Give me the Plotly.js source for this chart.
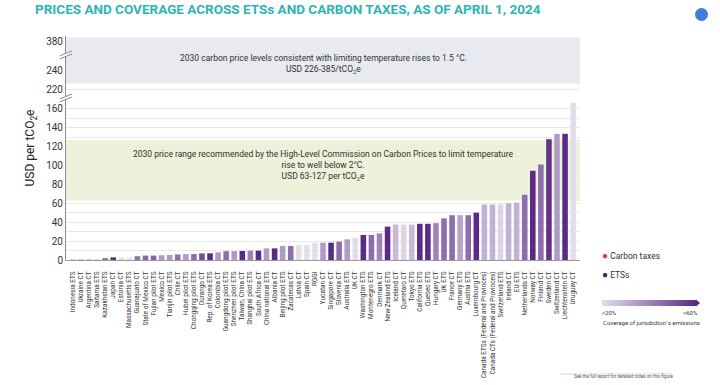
<!DOCTYPE html>
<html>
<head>
<meta charset="utf-8">
<script src="https://cdn.plot.ly/plotly-3.0.1.min.js"></script>
<style>
  html, body { margin: 0; padding: 0; background: #ffffff; }
  #chart { width: 720px; height: 385px; }
</style>
</head>
<body>
<div id="chart"></div>
<script>
// ---------------- DATA ----------------
const labels = [
  "Indonesia ETS", "Ukraine CT", "Argentina CT", "Saitama ETS", "Kazakhstan ETS",
  "Japan CT", "Estonia CT", "Massachusetts ETS", "Guanajuato CT", "State of Mexico CT",
  "Fujian pilot ETS", "Mexico CT", "Tianjin pilot ETS", "Chile CT", "Hubei pilot ETS",
  "Chongqing pilot ETS", "Durango CT", "Rep. of Korea ETS", "Colombia CT", "Guangdong pilot ETS",
  "Shenzhen pilot ETS", "Taiwan, China CT", "Shanghai pilot ETS", "South Africa CT", "China national ETS",
  "Albania CT", "Beijing pilot ETS", "Zacatecas CT", "Latvia CT", "Spain CT",
  "RGGI", "Yucatan CT", "Singapore CT", "Slovenia CT", "Australia ETS",
  "UK CT", "Washington ETS", "Montenegro ETS", "Denmark CT", "New Zealand ETS",
  "Iceland CT", "Queretaro CT", "Tokyo ETS", "California ETS", "Quebec ETS",
  "Hungary CT", "UK ETS", "France CT", "Germany ETS", "Austria ETS",
  "Luxembourg CT", "Canada ETSs (Federal and Provinces)", "Canada CTs (Federal and Provinces)", "Switzerland ETS", "Ireland CT",
  "EU ETS", "Netherlands CT", "Norway CT", "Finland CT", "Sweden CT",
  "Switzerland CT", "Liechtenstein CT", "Uruguay CT"
];
const types = [
  "ETS","CT","CT","ETS","ETS",
  "CT","CT","ETS","CT","CT",
  "ETS","CT","ETS","CT","ETS",
  "ETS","CT","ETS","CT","ETS",
  "ETS","CT","ETS","CT","ETS",
  "CT","ETS","CT","CT","CT",
  "ETS","CT","CT","CT","ETS",
  "CT","ETS","ETS","CT","ETS",
  "CT","CT","ETS","ETS","ETS",
  "CT","ETS","CT","ETS","ETS",
  "CT","ETS","CT","ETS","CT",
  "ETS","CT","CT","CT","CT",
  "CT","CT","CT"
];
// USD per tCO2e
const prices = [
  1.0, 1.2, 1.2, 1.0, 2.0,
  2.8, 2.5, 2.5, 4.0, 4.7,
  4.7, 5.0, 5.4, 5.9, 6.3,
  6.3, 7.0, 7.1, 8.2, 9.3,
  9.4, 9.5, 9.9, 9.9, 12.3,
  12.3, 14.8, 14.8, 15.9, 15.9,
  18.3, 18.3, 18.3, 19.4, 21.9,
  23.6, 26.5, 26.5, 28.2, 35.3,
  37.5, 37.5, 37.5, 38.3, 38.3,
  39.0, 44.0, 47.4, 47.4, 47.4,
  50.0, 58.7, 58.7, 58.7, 60.1,
  60.8, 69.0, 94.4, 101.0, 127.8,
  133.5, 133.5, 166.3
];
// coverage of jurisdiction's emissions (%), estimated from bar shade
const coverage = [
  25, 25, 25, 22, 45,
  60, 20, 20, 45, 47,
  47, 35, 35, 45, 35,
  45, 52, 60, 35, 45,
  35, 60, 40, 60, 35,
  60, 35, 45, 20, 20,
  20, 35, 60, 45, 35,
  20, 60, 45, 40, 60,
  28, 22, 28, 60, 60,
  40, 45, 45, 33, 45,
  60, 30, 30, 22, 30,
  30, 45, 60, 45, 58,
  35, 60, 20
];
const coverageTickText = ["<20%", ">60%"];
// broken y axis: real value -> drawn position
const realBreaks = [0, 172, 220, 240, 380, 390];
const drawBreaks = [0, 172, 180.6, 201, 230.7, 240.9];
const yTickValues = [0, 20, 40, 60, 80, 100, 120, 140, 160, 220, 240, 380];
const yMinorValues = [10, 30, 50, 70, 90, 110, 130, 150];
const band15 = [226, 385];   // 1.5 °C range
const band2 = [63, 127];     // well below 2 °C range

function toDraw(v) {
  for (let i = 0; i < realBreaks.length - 1; i++) {
    if (v <= realBreaks[i + 1]) {
      const t = (v - realBreaks[i]) / (realBreaks[i + 1] - realBreaks[i]);
      return drawBreaks[i] + t * (drawBreaks[i + 1] - drawBreaks[i]);
    }
  }
  return drawBreaks[drawBreaks.length - 1];
}

// pixel helpers for placing side elements (plot area: x 66..580, y 36..260)
const px = x => (x - 66) / 514;
const py = y => (260 - y) / 224;

const CT_COLOR = "#e3334f";
const ETS_COLOR = "#15315e";
const dotY = labels.map(() => -7);

const barTrace = {
  type: "bar",
  x: labels,
  y: prices.map(toDraw),
  marker: {
    color: coverage,
    cmin: 20, cmax: 60,
    colorscale: [[0, "#e3deeb"], [1, "#5a2a86"]],
    line: { width: 0 },
    showscale: true,
    colorbar: {
      orientation: "h",
      xref: "paper", yref: "paper",
      x: px(649), xanchor: "center",
      y: py(303), yanchor: "middle",
      len: 94, lenmode: "pixels",
      thickness: 6, thicknessmode: "pixels",
      xpad: 0, ypad: 0,
      outlinewidth: 0,
      showticklabels: false,
      ticks: ""
    }
  },
  hoverinfo: "skip"
};

const dotTrace = {
  type: "scatter",
  mode: "markers",
  x: labels,
  y: dotY,
  cliponaxis: false,
  marker: { size: 5, color: types.map(t => t === "CT" ? CT_COLOR : ETS_COLOR) },
  hoverinfo: "skip"
};

const shapes = [
  { type: "rect", xref: "paper", yref: "y", x0: 0, x1: 1,
    y0: toDraw(band15[0]), y1: toDraw(band15[1]),
    fillcolor: "#e8eaef", line: { width: 0 }, layer: "between" },
  { type: "rect", xref: "paper", yref: "y", x0: 0, x1: 1,
    y0: toDraw(band2[0]), y1: toDraw(band2[1]),
    fillcolor: "#eef2d8", line: { width: 0 }, layer: "between" },
];
// axis break marks
[217, 171.5].forEach(b => {
  shapes.push({ type: "rect", xref: "paper", yref: "y", x0: -0.006, x1: 0.006,
    y0: b - 1.6, y1: b + 1.6, fillcolor: "#ffffff", line: { width: 0 }, layer: "above" });
  [-1.6, 1.6].forEach(o => {
    shapes.push({ type: "line", xref: "paper", yref: "y",
      x0: -0.012, x1: 0.012, y0: b + o - 2.6, y1: b + o + 2.6,
      line: { color: "#8c8c8c", width: 1 }, layer: "above" });
  });
});
// colorbar end arrow
shapes.push({ type: "path", xref: "paper", yref: "paper",
  path: "M " + px(696) + " " + py(299.5) + " L " + px(700) + " " + py(303) + " L " + px(696) + " " + py(306.5) + " Z",
  fillcolor: "#5a2a86", line: { width: 0 } });
// note rule and corner icon
shapes.push({ type: "line", xref: "paper", yref: "paper",
  x0: px(560), x1: px(672), y0: py(374), y1: py(374),
  line: { color: "#bfe6df", width: 1 } });
shapes.push({ type: "circle", xref: "paper", yref: "paper",
  x0: px(695), x1: px(708), y0: py(8), y1: py(21),
  fillcolor: "#3b7fd6", line: { width: 0 } });

const txtFont = { family: "Roboto", size: 8.5, color: "#333" };
const smallFont = { family: "Roboto", size: 6, color: "#333" };
const annotations = [
  { xref: "paper", yref: "y", x: 0.5, y: 207.5, xanchor: "center", showarrow: false, font: txtFont,
    text: "2030 carbon price levels consistent with limiting temperature rises to 1.5 °C.<br>USD 226-385/tCO<sub>2</sub>e" },
  { xref: "paper", yref: "y", x: 0.5, y: 100.5, xanchor: "center", showarrow: false, font: txtFont,
    text: "2030 price range recommended by the High-Level Commission on Carbon Prices to limit temperature<br>rise to well below 2°C.<br>USD 63-127 per tCO<sub>2</sub>e" },
  { xref: "paper", yref: "paper", x: px(600), y: py(263), xanchor: "left",
    showarrow: false, font: { family: "Roboto", size: 8.5, color: "#333" },
    text: "<span style='color:" + CT_COLOR + ";font-size:10px'>●</span> Carbon taxes" },
  { xref: "paper", yref: "paper", x: px(600), y: py(282), xanchor: "left",
    showarrow: false, font: { family: "Roboto", size: 8.5, color: "#333" },
    text: "<span style='color:" + ETS_COLOR + ";font-size:10px'>●</span> ETSs" },
  { xref: "paper", yref: "paper", x: px(600), y: py(312), xanchor: "left", yanchor: "middle",
    showarrow: false, font: smallFont, text: coverageTickText[0] },
  { xref: "paper", yref: "paper", x: px(700), y: py(312), xanchor: "right", yanchor: "middle",
    showarrow: false, font: smallFont, text: coverageTickText[1] },
  { xref: "paper", yref: "paper", x: px(651), y: py(322), xanchor: "center", yanchor: "middle",
    showarrow: false, font: smallFont, text: "Coverage of jurisdiction`s emissions" },
  { xref: "paper", yref: "paper", x: px(623), y: py(381), xanchor: "center",
    showarrow: false, font: { family: "Roboto", size: 4.5, color: "#555" },
    text: "See the full report for detailed notes on this figure" }
];

const layout = {
  width: 720, height: 385,
  margin: { l: 66, r: 140, t: 36, b: 125 },
  paper_bgcolor: "#ffffff", plot_bgcolor: "#ffffff",
  showlegend: false,
  bargap: 0.31,
  title: {
    text: "PRICES AND COVERAGE ACROSS ETSs AND CARBON TAXES, AS OF APRIL 1, 2024",
    xref: "container", yref: "container",
    x: 35 / 720, xanchor: "left", y: 1 - 9 / 385, yanchor: "middle",
    font: { family: "Roboto", size: 13.5, weight: 700, color: "#2bb5b4" }
  },
  xaxis: {
    type: "category",
    range: [-0.85, 62.85],
    tickangle: -90,
    ticks: "outside", ticklen: 8, tickcolor: "rgba(0,0,0,0)",
    tickfont: { family: "Roboto", size: 6.4, color: "#333" },
    showline: true, linecolor: "#9a9a9a", linewidth: 1,
    showgrid: false, zeroline: false, automargin: false
  },
  yaxis: {
    range: [0, 237],
    tickmode: "array",
    tickvals: yTickValues.map(toDraw),
    ticktext: yTickValues.map(String),
    tickfont: { family: "Roboto", size: 10, color: "#333" },
    showgrid: true, gridcolor: "#e9e9e9", gridwidth: 1,
    minor: { tickmode: "array", tickvals: yMinorValues.map(toDraw), showgrid: true, gridcolor: "#e9e9e9", gridwidth: 1 },
    zeroline: false,
    showline: true, linecolor: "#8c8c8c", linewidth: 1,
    ticks: "", automargin: false,
    title: { text: "USD per tCO<sub>2</sub>e", font: { family: "Roboto", size: 12, color: "#222" }, standoff: 8 }
  },
  shapes: shapes,
  annotations: annotations
};

Plotly.newPlot("chart", [barTrace, dotTrace], layout, { displayModeBar: false, staticPlot: true });
</script>
</body>
</html>
